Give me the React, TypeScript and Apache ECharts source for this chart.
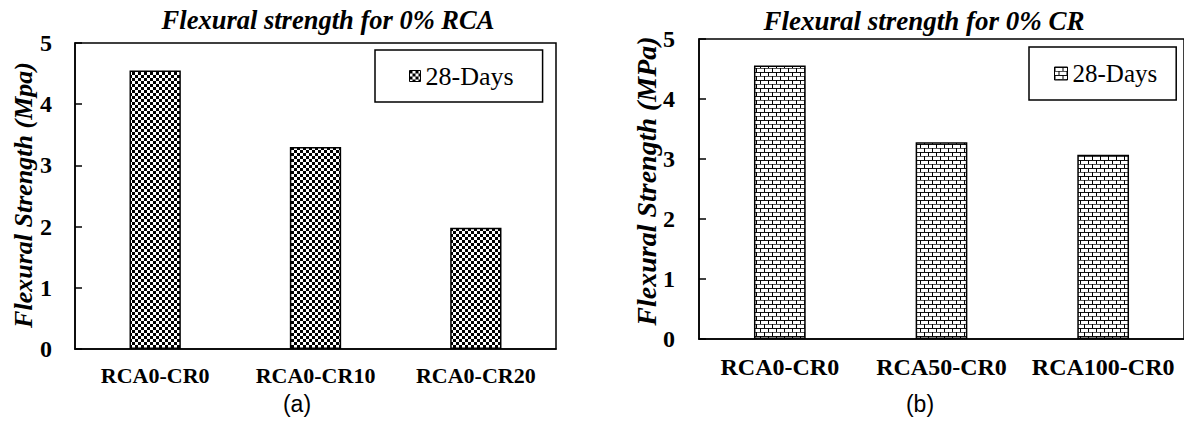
import React, { useEffect, useRef } from "react";
import * as echarts from "echarts";

const categoriesA = ["RCA0-CR0", "RCA0-CR10", "RCA0-CR20"];
const valuesA = [4.55, 3.3, 1.98];
const categoriesB = ["RCA0-CR0", "RCA50-CR0", "RCA100-CR0"];
const valuesB = [4.56, 3.28, 3.07];
const seriesName = "28-Days";
const titleA = "Flexural strength for 0% RCA";
const titleB = "Flexural strength for 0% CR";
const yNameA = "Flexural Strength (Mpa)";
const yNameB = "Flexural Strength (MPa)";
const panelA = "(a)";
const panelB = "(b)";
const yMin = 0;
const yMax = 5;
const yInterval = 1;

const SERIF = "Liberation Serif";
const SANS = "Liberation Sans";

function checkerPattern(): any {
  const c = document.createElement("canvas");
  c.width = 6;
  c.height = 6;
  const g = c.getContext("2d")!;
  g.fillStyle = "#fff";
  g.fillRect(0, 0, 6, 6);
  g.fillStyle = "#000";
  g.fillRect(0, 0, 3, 3);
  g.fillRect(3, 3, 3, 3);
  return { image: c.toDataURL(), repeat: "repeat", imageWidth: 6, imageHeight: 6 };
}

function brickPattern(): any {
  const c = document.createElement("canvas");
  c.width = 8;
  c.height = 8;
  const g = c.getContext("2d")!;
  g.fillStyle = "#fff";
  g.fillRect(0, 0, 8, 8);
  g.fillStyle = "#111";
  g.fillRect(0, 0, 8, 1);
  g.fillStyle = "#555";
  g.fillRect(0, 4, 8, 1);
  g.fillStyle = "#000";
  g.fillRect(0, 0, 1, 4);
  g.fillRect(4, 4, 1, 4);
  return { image: c.toDataURL(), repeat: "repeat", imageWidth: 8, imageHeight: 8 };
}

export default function App() {
  const ref = useRef<HTMLDivElement>(null);

  useEffect(() => {
    if (!ref.current) return;
    const chart = echarts.init(ref.current, null, { renderer: "svg" });
    const checker = checkerPattern();
    const brick = brickPattern();

    const xAxisCommon = (idx: number, cats: string[], size: number, margin: number) => ({
      type: "category",
      gridIndex: idx,
      data: cats,
      axisLine: { show: true, lineStyle: { color: "#000", width: 1.5 } },
      axisTick: { show: false },
      axisLabel: {
        color: "#000",
        fontFamily: SERIF,
        fontWeight: "bold",
        fontSize: size,
        margin,
        interval: 0,
      },
      splitLine: { show: false },
    });

    const yAxisCommon = (idx: number, size: number, margin: number) => ({
      type: "value",
      gridIndex: idx,
      min: yMin,
      max: yMax,
      interval: yInterval,
      axisLine: { show: true, lineStyle: { color: "#000", width: 1.5 } },
      axisTick: { show: true, inside: true, length: 7, lineStyle: { color: "#000", width: 1.5 } },
      axisLabel: {
        color: "#000",
        fontFamily: SERIF,
        fontWeight: "bold",
        fontSize: size,
        margin,
      },
      splitLine: { show: false },
    });

    const legendCommon = (
      left: number,
      top: number,
      pat: any,
      padding: number[],
      icon: number,
      size: number
    ) => ({
      left,
      top,
      orient: "horizontal",
      padding,
      borderColor: "#000",
      borderWidth: 1.5,
      itemWidth: icon,
      itemHeight: icon,
      itemGap: 0,
      selectedMode: false,
      icon: "rect",
      textStyle: { color: "#000", fontFamily: SERIF, fontSize: size },
      data: [
        {
          name: seriesName,
          icon: "rect",
          itemStyle: { color: pat, borderColor: "#000", borderWidth: 1 },
        },
      ],
    });

    const textEl = (
      text: string,
      x: number,
      y: number,
      family: string,
      size: number,
      bold: boolean,
      italic: boolean,
      rotation = 0
    ) => ({
      type: "text",
      x,
      y,
      rotation,
      style: {
        text,
        fontFamily: family,
        fontSize: size,
        fontWeight: bold ? "bold" : "normal",
        fontStyle: italic ? "italic" : "normal",
        fill: "#000",
        textAlign: "center",
        textVerticalAlign: "middle",
      },
      silent: true,
    });

    chart.setOption({
      animation: false,
      backgroundColor: "#fff",
      grid: [
        {
          left: 75,
          top: 43,
          width: 481,
          height: 306,
          show: true,
          borderColor: "#000",
          borderWidth: 1.5,
          backgroundColor: "transparent",
          containLabel: false,
        },
        {
          left: 699,
          top: 39,
          width: 486,
          height: 300,
          show: true,
          borderColor: "#000",
          borderWidth: 1.5,
          backgroundColor: "transparent",
          containLabel: false,
        },
      ],
      xAxis: [xAxisCommon(0, categoriesA, 22, 15), xAxisCommon(1, categoriesB, 24, 16)],
      yAxis: [yAxisCommon(0, 24, 23), yAxisCommon(1, 24, 24)],
      legend: [
        legendCommon(375, 50, checker, [13, 29, 13, 34], 11, 26),
        legendCommon(1029, 47, brick, [14, 19, 14, 25], 13, 25),
      ],
      series: [
        {
          name: seriesName,
          type: "bar",
          xAxisIndex: 0,
          yAxisIndex: 0,
          data: valuesA,
          barWidth: "32%",
          itemStyle: { color: checker, borderColor: "#000", borderWidth: 1.5 },
        },
        {
          name: seriesName,
          type: "bar",
          xAxisIndex: 1,
          yAxisIndex: 1,
          data: valuesB,
          barWidth: "32%",
          itemStyle: { color: brick, borderColor: "#000", borderWidth: 1.5 },
        },
      ],
      graphic: [
        textEl(titleA, 328, 20, SERIF, 26.5, true, true),
        textEl(titleB, 924, 21, SERIF, 27, true, true),
        textEl(yNameA, 23, 195, SERIF, 26, true, true, Math.PI / 2),
        textEl(yNameB, 646, 181, SERIF, 28, true, true, Math.PI / 2),
        textEl(panelA, 297, 404, SANS, 23, false, false),
        textEl(panelB, 920, 404, SANS, 23, false, false),
      ],
    });

    return () => {
      chart.dispose();
    };
  }, []);

  return (
    <div
      ref={ref}
      style={{ position: "absolute", left: 0, top: 0, width: 1184, height: 421, background: "#fff" }}
    />
  );
}
